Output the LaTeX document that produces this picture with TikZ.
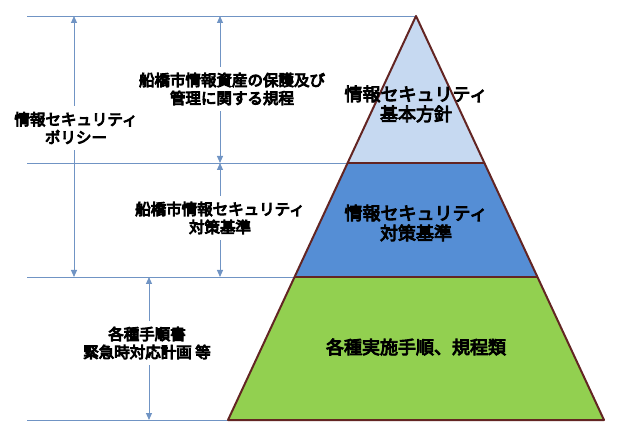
\documentclass[tikz,border=0pt]{standalone}
\usepackage{fontspec}
\newfontfamily\jp{Noto Sans CJK JP}
\newcommand\heavytext{\special{pdf:literal direct 2 Tr 0.9 w}}
\usetikzlibrary{arrows.meta}
\definecolor{lvlone}{HTML}{C6D9F1}
\definecolor{lvltwo}{HTML}{558ED5}
\definecolor{lvlthree}{HTML}{92D050}
\definecolor{edgecol}{HTML}{632523}
\definecolor{guide}{HTML}{7094C4}
\begin{document}
\begin{tikzpicture}[x=1pt,y=-1pt,
  guideline/.style={draw=guide,line width=0.9pt},
  dimarrow/.style={draw=guide,line width=1pt,-{Triangle[length=7pt,width=6pt]}},
  sidelabel/.style={font=\jp\fontsize{15.5}{18}\selectfont\heavytext,align=center,inner sep=6pt},
  pyrlabel/.style={font=\jp\fontsize{18}{20}\selectfont\heavytext,align=center,inner sep=0pt},
  tier/.style={draw=edgecol,line width=2pt,line join=round}]
\useasboundingbox (0,0) rectangle (623,427);
% guide lines
\coordinate (t0) at (27,16);   \coordinate (t1) at (416,16);
\coordinate (m0) at (27,163);  \coordinate (m1) at (348,163);
\coordinate (n0) at (27,277);  \coordinate (n1) at (295,277);
\coordinate (b0) at (27,420);  \coordinate (b1) at (228,420);
\draw[guideline] (t0) -- (t1);
\draw[guideline] (m0) -- (m1);
\draw[guideline] (n0) -- (n1);
\draw[guideline] (b0) -- (b1);
% pyramid
\coordinate (apex) at (416,16);
\coordinate (l1) at (347.6,163); \coordinate (r1) at (484.4,163);
\coordinate (l2) at (295,277);   \coordinate (r2) at (537,277);
\coordinate (l3) at (228,420);   \coordinate (r3) at (604,420);
\fill[lvlthree] (l2) -- (r2) -- (r3) -- (l3) -- cycle;
\fill[lvltwo] (l1) -- (r1) -- (r2) -- (l2) -- cycle;
\fill[lvlone] (apex) -- (r1) -- (l1) -- cycle;
\draw[tier] (apex) -- (r3) -- (l3) -- cycle;
\draw[tier] (l1) -- (r1);
\draw[tier] (l2) -- (r2);
% pyramid labels
\node[pyrlabel] (p1) at (416,104) {情報セキュリティ\\基本方針};
\node[pyrlabel] (p2) at (416,223) {情報セキュリティ\\対策基準};
\node[pyrlabel] (p3) at (416,347) {各種実施手順、規程類};
% side labels
\node[sidelabel] (s1) at (76,128) {情報セキュリティ\\ポリシー};
\node[sidelabel] (s2) at (232,89) {船橋市情報資産の保護及び\\管理に関する規程};
\node[sidelabel] (s3) at (220,218) {船橋市情報セキュリティ\\対策基準};
\node[sidelabel] (s4) at (147,343) {各種手順書\\緊急時対応計画 等};
% arrow end points
\coordinate (a1t) at (74,16);  \coordinate (a1b) at (74,277);
\coordinate (a2t) at (220,16); \coordinate (a2b) at (220,163);
\coordinate (a3t) at (220,163); \coordinate (a3b) at (220,277);
\coordinate (a4t) at (149,277); \coordinate (a4b) at (149,420);
\draw[dimarrow] (s1.north -| a1t) -- (a1t);
\draw[dimarrow] (s1.south -| a1b) -- (a1b);
\draw[dimarrow] (s2.north -| a2t) -- (a2t);
\draw[dimarrow] (s2.south -| a2b) -- (a2b);
\draw[dimarrow] (s3.north -| a3t) -- (a3t);
\draw[dimarrow] (s3.south -| a3b) -- (a3b);
\draw[dimarrow] (s4.north -| a4t) -- (a4t);
\draw[dimarrow] (s4.south -| a4b) -- (a4b);
\end{tikzpicture}
\end{document}
